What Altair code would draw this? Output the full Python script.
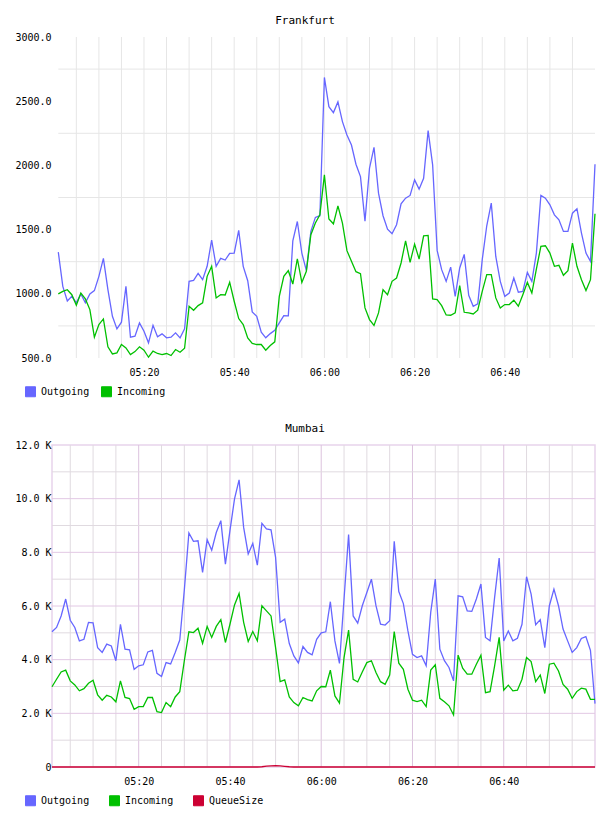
import altair as alt
import pandas as pd

# one reading per minute, 05:01 .. 07:00
N = 120
times = [f"2024-01-01T{(301 + m) // 60:02d}:{(301 + m) % 60:02d}:00" for m in range(N)]

fra_out = [1325, 1058, 944, 980, 929, 999, 929, 999, 1025, 1136,
           1276, 1032, 825, 727, 779, 1058, 662, 670, 773, 709,
           618, 755, 665, 688, 657, 662, 696, 657, 727, 1097,
           1105, 1159, 1110, 1214, 1418, 1214, 1276, 1263, 1315, 1317,
           1494, 1214, 1102, 859, 825, 701, 657, 690, 716, 773,
           830, 828, 1413, 1563, 1317, 1180, 1486, 1595, 1608, 2685,
           2457, 2411, 2494, 2341, 2237, 2159, 2009, 1913, 1566, 1978,
           2141, 1784, 1608, 1504, 1468, 1538, 1701, 1745, 1766, 1887,
           1815, 1900, 2271, 2004, 1338, 1188, 1097, 1208, 980, 1201,
           1307, 988, 903, 921, 1266, 1530, 1706, 1291, 1097, 980,
           1006, 1123, 1012, 1019, 1167, 1097, 1317, 1766, 1745, 1693,
           1615, 1576, 1486, 1486, 1628, 1662, 1473, 1317, 1253, 2009]

fra_in = [999, 1019, 1032, 993, 911, 1006, 960, 877, 662, 760,
          804, 587, 532, 540, 605, 579, 527, 550, 587, 561,
          506, 553, 535, 527, 535, 519, 566, 545, 576, 903,
          872, 908, 929, 1136, 1214, 968, 993, 991, 1089, 942,
          807, 760, 657, 613, 605, 605, 561, 597, 626, 980,
          1136, 1180, 1076, 1273, 1089, 1175, 1460, 1551, 1615, 1926,
          1582, 1545, 1685, 1551, 1336, 1253, 1172, 1157, 890, 799,
          753, 851, 1032, 993, 1097, 1123, 1240, 1413, 1245, 1387,
          1271, 1452, 1455, 960, 955, 908, 835, 833, 851, 1063,
          856, 851, 843, 872, 1019, 1149, 1149, 968, 890, 916,
          916, 950, 903, 993, 1089, 1006, 1193, 1369, 1374, 1317,
          1214, 1222, 1144, 1180, 1395, 1214, 1110, 1025, 1110, 1623]

bom_out = [5040, 5200, 5630, 6260, 5470, 5200, 4700, 4760, 5390, 5370,
           4450, 4270, 4580, 4510, 3960, 5320, 4390, 4370, 3640, 3770,
           3810, 4290, 4350, 3490, 3370, 3890, 3840, 4270, 4730, 6600,
           8720, 8410, 8430, 7250, 8470, 8080, 8740, 9180, 7560, 8810,
           9990, 10700, 8930, 7940, 8330, 7520, 9080, 8870, 8840, 7810,
           5390, 5510, 4600, 4140, 3880, 4490, 4270, 4180, 4760, 5000,
           5040, 6160, 4700, 3860, 6260, 8660, 5630, 5360, 6010, 6500,
           7000, 6010, 5320, 5290, 5450, 8410, 6540, 6090, 5070, 4200,
           4080, 4140, 3770, 5760, 7000, 4390, 3960, 3710, 3210, 6380,
           6340, 5820, 5800, 6260, 6820, 4830, 4700, 6320, 7790, 4700,
           5070, 4700, 4800, 5320, 7090, 6440, 5300, 5490, 4450, 6010,
           6630, 6010, 5140, 4700, 4270, 4450, 4790, 4860, 4350, 2360]

bom_in = [2990, 3270, 3540, 3610, 3210, 3060, 2840, 2920, 3120, 3230,
          2690, 2490, 2670, 2610, 2430, 3210, 2590, 2550, 2150, 2250,
          2250, 2590, 2590, 2060, 2030, 2400, 2250, 2610, 2810, 3960,
          5040, 5010, 5170, 4610, 5240, 4830, 5240, 5490, 4640, 5320,
          6040, 6470, 5390, 4680, 5050, 4700, 6010, 5820, 5630, 4450,
          3180, 3250, 2610, 2400, 2280, 2590, 2510, 2460, 2840, 3000,
          2990, 3610, 2650, 2380, 4080, 5100, 3270, 3170, 3540, 3890,
          3960, 3520, 3180, 3080, 3430, 5050, 3870, 3640, 2900, 2490,
          2440, 2490, 2250, 3610, 3810, 2560, 2430, 2280, 1940, 4170,
          3680, 3460, 3460, 3830, 4170, 2770, 2810, 3770, 4830, 2860,
          3050, 2840, 2860, 3270, 4080, 3930, 3180, 3430, 2740, 3830,
          3870, 3580, 3080, 2900, 2560, 2810, 2940, 2900, 2520, 2520]

bom_queue = [0] * 46 + [10, 30, 45, 50, 40, 25, 10] + [0] * 67

series_names = ["Outgoing", "Incoming", "QueueSize"]
series_colors = ["#6666ff", "#00c000", "#cc0033"]

fra_hgrid = [750, 1250, 1750, 2250, 2750]
bom_hgrid_minor = [1000, 3000, 5000, 7000, 9000, 11000]
bom_hgrid_major = [2000, 4000, 6000, 8000, 10000]
five_min = [f"2024-01-01T{h:02d}:{m:02d}:00" for h in (5, 6) for m in range(0, 60, 5)]
five_min = [t for t in five_min if times[0] < t < times[-1]]
twenty_min = [t for t in five_min if t[14:16] in ("00", "20", "40")]
five_min_only = [t for t in five_min if t not in twenty_min]

MONO = "DejaVu Sans Mono"
x_start, x_end = times[0], times[-1]
tick_times = [alt.DateTime(year=2024, month=1, date=1, hours=h, minutes=m)
              for h, m in [(5, 20), (5, 40), (6, 0), (6, 20), (6, 40)]]

# filled legend keys in the series colours
key_fill = " : ".join(
    f"datum.value === '{n}' ? '{c}'" for n, c in zip(series_names[:-1], series_colors[:-1])
) + f" : '{series_colors[-1]}'"


def long_table(cols):
    rows = []
    for k, (name, vals) in enumerate(cols.items()):
        for t, v in zip(times, vals):
            rows.append({"t": t, "value": v, "series": name, "series_order": k})
    return pd.DataFrame(rows)


def panel(title, table, names, y_dom, y_vals, y_axis_kw, hgrids, vgrids,
          x_range, legend_cols, legend_gap, height, view):
    xs = dict(domain=[x_start, x_end])
    if x_range is not None:
        xs["range"] = x_range
    x = alt.X("t:T", scale=alt.Scale(**xs),
              axis=alt.Axis(values=tick_times, format="%H:%M", title=None,
                            ticks=False, domain=False, grid=False,
                            labelPadding=9, labelFont=MONO, labelFontSize=10,
                            labelColor="#000"))
    y_scale = alt.Scale(domain=y_dom, zero=False, nice=False)
    y = alt.Y("value:Q", scale=y_scale,
              axis=alt.Axis(values=y_vals, title=None, ticks=False,
                            domain=False, grid=False, labelPadding=1,
                            labelFont=MONO, labelFontSize=10,
                            labelColor="#000", **y_axis_kw))
    pal = alt.Scale(domain=names, range=series_colors[:len(names)])

    layers = []
    for vals, col in vgrids:
        layers.append(alt.Chart(pd.DataFrame({"t": vals})).mark_rule(
            color=col, strokeWidth=1).encode(x=x))
    for vals, col in hgrids:
        layers.append(alt.Chart(pd.DataFrame(
            {"value": vals, "t": x_start, "t2": x_end})).mark_rule(
            color=col, strokeWidth=1).encode(x=x, x2="t2:T", y=y))
    layers.append(alt.Chart(table).mark_line(strokeWidth=1.3).encode(
        x=x, y=y,
        color=alt.Color("series:N", scale=pal,
                        legend=alt.Legend(
                            title=None, orient="none", legendX=-27,
                            legendY=height + 28, direction="horizontal",
                            columns=legend_cols, symbolType="square",
                            symbolSize=100, symbolStrokeWidth=1,
                            symbolFillColor={"expr": key_fill},
                            symbolStrokeColor="#8c8c8c",
                            labelFont=MONO, labelFontSize=10,
                            labelColor="#000", labelOffset=5,
                            columnPadding=legend_gap, gridAlign="all",
                            padding=0)),
        order=alt.Order("series_order:Q")))
    return alt.layer(*layers).properties(
        width=543, height=height,
        title=alt.TitleParams(title, anchor="middle", frame="group", dx=-18.5,
                              offset=6, font=MONO, fontSize=11,
                              fontWeight="normal", color="#000"),
        view=view)


fra_table = long_table({"Outgoing": fra_out, "Incoming": fra_in})
bom_table = long_table({"Outgoing": bom_out, "Incoming": bom_in,
                        "QueueSize": bom_queue})

frankfurt = panel(
    "Frankfurt", fra_table, series_names[:2], [500, 3000],
    list(range(500, 3001, 500)), dict(format=".1f"),
    [(fra_hgrid, "#e6e6e6")], [(five_min, "#e6e6e6")],
    [6.3, 543], 2, 9, 321, alt.ViewBackground(strokeWidth=0))

mumbai = panel(
    "Mumbai", bom_table, series_names, [0, 12000],
    list(range(0, 12001, 2000)),
    dict(labelExpr="datum.value == 0 ? '0' : format(datum.value / 1000, '.1f') + ' K'"),
    [(bom_hgrid_minor, "#e0dae0"), (bom_hgrid_major, "#e2c8e4")],
    [(five_min_only, "#e0dae0"), (twenty_min, "#dcc2de")],
    None, 3, 11, 322, alt.ViewBackground(stroke="#e8d4ec", strokeWidth=1.5))

chart = alt.vconcat(frankfurt, mumbai, spacing=23).resolve_scale(
    color="independent").properties(
    padding={"left": 14, "top": 15, "right": 0, "bottom": 0},
    background="white")

chart.save("out.html", embed_options={"renderer": "svg", "actions": False})
